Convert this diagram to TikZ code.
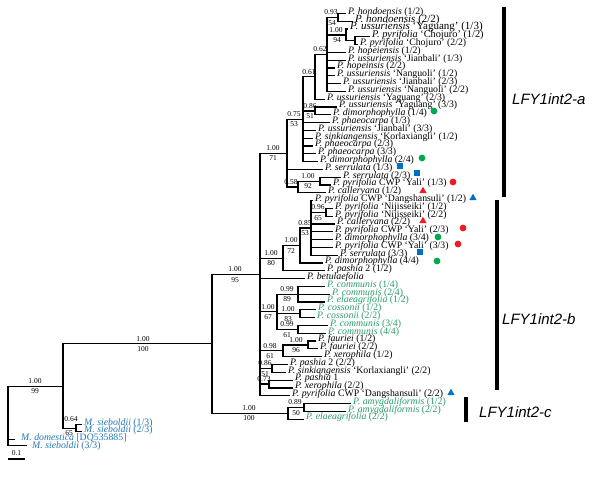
\documentclass[tikz,border=0pt]{standalone}
\usepackage{fontspec}
\setmainfont{Liberation Serif}
\newfontfamily\lfyfont{Liberation Sans}
\usetikzlibrary{shapes.geometric}
\definecolor{tgreen}{RGB}{40,158,105}
\definecolor{mblue}{RGB}{35,120,185}
\definecolor{kgreen}{RGB}{0,168,80}
\definecolor{kblue}{RGB}{0,112,192}
\definecolor{kred}{RGB}{237,28,36}
\newcommand\fsz[1]{\fontsize{#1}{#1}\selectfont}
\newcommand\tip[4]{\coordinate (e#1) at (#2,{13.5+7.8*#1});\node[lf,#3] (t#1) at (e#1) {#4};}
\newcommand\bsl[4]{\node[bs] (#1) at (#2,#3) {#4};}
\begin{document}
\begin{tikzpicture}[x=1pt,y=-1pt,
  br/.style={line width=1.2pt},
  lf/.style={anchor=west,inner sep=0pt,xshift=2pt,yshift=1.7pt,text height=7pt,text depth=2pt,font=\fsz{9.8}},
  bs/.style={inner sep=0pt,font=\fsz{7.5}},
  gt/.style={text=tgreen},
  mt/.style={text=mblue},
  bar/.style={line width=4pt},
  lfy/.style={anchor=west,inner sep=0pt,font=\lfyfont\itshape\fsz{15}},
  gc/.style={circle,fill=kgreen,inner sep=0pt,minimum size=6.8pt},
  rc/.style={circle,fill=kred,inner sep=0pt,minimum size=6.8pt},
  bq/.style={rectangle,fill=kblue,inner sep=0pt,minimum size=6.3pt},
  rt/.style={regular polygon,regular polygon sides=3,fill=kred,inner sep=0pt,minimum size=8.5pt},
  bt/.style={regular polygon,regular polygon sides=3,fill=kblue,inner sep=0pt,minimum size=8.5pt}]
\fill[white] (0,0) rectangle (600,494);
\useasboundingbox (0,0) rectangle (600,494);

% ---------- tips ----------
\tip{0}{346}{}{\textit{P. hondoensis} (1/2)}
\tip{1}{353}{font=\fsz{11}}{\textit{P. hondoensis} (2/2)}
\tip{2}{348}{font=\fsz{11}}{\textit{P. ussuriensis} ‘Yaguang’ (1/3)}
\tip{3}{370}{font=\fsz{10.3}}{\textit{P. pyrifolia} ‘Chojuro’ (1/2)}
\tip{4}{358}{}{\textit{P. pyrifolia} ‘Chojuro’ (2/2)}
\tip{5}{346}{}{\textit{P. hopeiensis} (1/2)}
\tip{6}{346}{}{\textit{P. ussuriensis} ‘Jianbali’ (1/3)}
\tip{7}{335}{}{\textit{P. hopeinsis} (2/2)}
\tip{8}{335}{}{\textit{P. ussuriensis} ‘Nanguoli’ (1/2)}
\tip{9}{341}{}{\textit{P. ussuriensis} ‘Jianbali’ (2/3)}
\tip{10}{346}{}{\textit{P. ussuriensis} ‘Nanguoli’ (2/2)}
\tip{11}{325}{}{\textit{P. ussuriensis} ‘Yaguang’ (2/3)}
\tip{12}{337}{}{\textit{P. ussuriensis} ‘Yaguang’ (3/3)}
\tip{13}{331}{}{\textit{P. dimorphophylla} (1/4)}
\tip{14}{330}{}{\textit{P. phaeocarpa} (1/3)}
\tip{15}{316}{}{\textit{P. ussuriensis} ‘Jianbali’ (3/3)}
\tip{16}{313}{}{\textit{P. sinkiangensis} ‘Korlaxiangli’ (1/2)}
\tip{17}{313}{}{\textit{P. phaeocarpa} (2/3)}
\tip{18}{316}{}{\textit{P. phaeocarpa} (3/3)}
\tip{19}{318}{}{\textit{P. dimorphophylla} (2/4)}
\tip{20}{323}{}{\textit{P. serrulata} (1/3)}
\tip{21}{341}{}{\textit{P. serrulata} (2/3)}
\tip{22}{331}{}{\textit{P. pyrifolia} CWP ‘Yali’ (1/3)}
\tip{23}{326}{}{\textit{P. calleryana} (1/2)}
\tip{24}{313}{}{\textit{P. pyrifolia} CWP ‘Dangshansuli’ (1/2)}
\tip{25}{333}{}{\textit{P. pyrifolia} ‘Nijisseiki’ (1/2)}
\tip{26}{333}{}{\textit{P. pyrifolia} ‘Nijisseiki’ (2/2)}
\tip{27}{335}{}{\textit{P. calleryana} (2/2)}
\tip{28}{333}{}{\textit{P. pyrifolia} CWP ‘Yali’ (2/3)}
\tip{29}{333}{}{\textit{P. dimorphophylla} (3/4)}
\tip{30}{333}{}{\textit{P. pyrifolia} CWP ‘Yali’ (3/3)}
\tip{31}{338}{}{\textit{P. serrulata} (3/3)}
\tip{32}{323}{}{\textit{P. dimorphophylla} (4/4)}
\tip{33}{325}{}{\textit{P. pashia} 2 (1/2)}
\tip{34}{305}{}{\textit{P. betulaefolia}}
\tip{35}{325}{gt}{\textit{P. communis} (1/4)}
\tip{36}{330}{gt}{\textit{P. communis} (2/4)}
\tip{37}{325}{gt}{\textit{P. elaeagrifolia} (1/2)}
\tip{38}{316}{gt}{\textit{P. cossonii} (1/2)}
\tip{39}{315}{gt}{\textit{P. cossonii} (2/2)}
\tip{40}{328}{gt}{\textit{P. communis} (3/4)}
\tip{41}{326}{gt}{\textit{P. communis} (4/4)}
\tip{42}{316}{}{\textit{P. fauriei} (1/2)}
\tip{43}{318}{}{\textit{P. fauriei} (2/2)}
\tip{44}{322}{}{\textit{P. xerophila} (1/2)}
\tip{45}{288}{}{\textit{P. pashia} 2 (2/2)}
\tip{46}{286}{}{\textit{P. sinkiangensis} ‘Korlaxiangli’ (2/2)}
\tip{47}{293}{}{\textit{P. pashia} 1}
\tip{48}{293}{}{\textit{P. xerophila} (2/2)}
\tip{49}{290}{}{\textit{P. pyrifolia} CWP ‘Dangshansuli’ (2/2)}
\tip{50}{351}{gt}{\textit{P. amygdaliformis} (1/2)}
\tip{51}{346}{gt}{\textit{P. amygdaliformis} (2/2)}
\tip{52}{304}{gt}{\textit{P. elaeagrifolia} (2/2)}

% Malus tips
\coordinate (eM1) at (82,424.5);
\coordinate (eM2) at (82,431.5);
\coordinate (eMd) at (15,439.5);
\coordinate (eM3) at (27,445.5);
\node[lf,mt] (tM1) at (eM1) {\textit{M. sieboldii} (1/3)};
\node[lf,mt] (tM2) at (eM2) {\textit{M. sieboldii} (2/3)};
\node[lf,mt,xshift=4pt,yshift=0.2pt] (tMd) at (eMd) {\textit{M. domestica} [DQ535885]};
\node[lf,mt,xshift=3pt,yshift=-2.3pt] (tM3) at (eM3) {\textit{M. sieboldii} (3/3)};

% ---------- internal nodes ----------
\coordinate (nR0) at (8,415.6);
\coordinate (nMP) at (63,386.2);
\coordinate (nMS) at (76,428.5);
\coordinate (nP0) at (212,343.85);
\coordinate (nM) at (260,274.45);
\coordinate (nC1) at (288,413.25);
\coordinate (nC2) at (304,407.4);
\coordinate (nA1) at (287,153.2);
\coordinate (nA2) at (303,119.3);
\coordinate (nB1) at (315,76.9);
\coordinate (nB2) at (327,54.45);
\coordinate (nH0) at (338,17.4);
\coordinate (nD) at (346,34.95);
\coordinate (nE) at (355,40.8);
\coordinate (nF) at (315,111);
\coordinate (nG) at (298,187.05);
\coordinate (nH) at (320,181.2);
\coordinate (nBn) at (283,258.2);
\coordinate (nK) at (300,245.55);
\coordinate (nL) at (311,228);
\coordinate (nN) at (326,212.4);
\coordinate (nP) at (277,311.85);
\coordinate (nQ) at (298,294.3);
\coordinate (nR) at (300,313.8);
\coordinate (nS) at (298,329.4);
\coordinate (nT) at (283,350.85);
\coordinate (nU) at (308,345);
\coordinate (nV) at (272,368.4);
\coordinate (nW) at (269,384);

% ---------- branches ----------
\draw[br] (nR0) |- (nMP);
\draw[br] (nR0) |- (eMd);
\draw[br] (nR0) |- (eM3);
\draw[br] (nMP) |- (nP0);
\draw[br] (nMP) |- (nMS);
\draw[br] (nMS) |- (eM1);
\draw[br] (nMS) |- (eM2);
\draw[br] (nP0) |- (nM);
\draw[br] (nP0) |- (nC1);
\draw[br] (nC1) |- (nC2);
\draw[br] (nC1) |- (e52);
\draw[br] (nC2) |- (e50);
\draw[br] (nC2) |- (e51);
\foreach \c in {nA1,nBn,e34,nP,nT,nV,nW,e49} \draw[br] (nM) |- (\c);
\foreach \c in {nA2,e20,nG} \draw[br] (nA1) |- (\c);
\foreach \c in {nB1,nF,e14,e15,e16,e17,e18,e19} \draw[br] (nA2) |- (\c);
\foreach \c in {nB2,e11} \draw[br] (nB1) |- (\c);
\foreach \c in {nH0,nD,e5,e6,e7,e8,e9,e10} \draw[br] (nB2) |- (\c);
\foreach \c in {e0,e1} \draw[br] (nH0) |- (\c);
\foreach \c in {e2,nE} \draw[br] (nD) |- (\c);
\foreach \c in {e3,e4} \draw[br] (nE) |- (\c);
\foreach \c in {e12,e13} \draw[br] (nF) |- (\c);
\foreach \c in {nH,e23} \draw[br] (nG) |- (\c);
\foreach \c in {e21,e22} \draw[br] (nH) |- (\c);
\foreach \c in {nK,e33} \draw[br] (nBn) |- (\c);
\foreach \c in {nL,e32} \draw[br] (nK) |- (\c);
\foreach \c in {e24,nN,e27,e28,e29,e30,e31} \draw[br] (nL) |- (\c);
\foreach \c in {e25,e26} \draw[br] (nN) |- (\c);
\foreach \c in {nQ,nR,nS} \draw[br] (nP) |- (\c);
\foreach \c in {e35,e36,e37} \draw[br] (nQ) |- (\c);
\foreach \c in {e38,e39} \draw[br] (nR) |- (\c);
\foreach \c in {e40,e41} \draw[br] (nS) |- (\c);
\foreach \c in {nU,e44} \draw[br] (nT) |- (\c);
\foreach \c in {e42,e43} \draw[br] (nU) |- (\c);
\foreach \c in {e45,e46} \draw[br] (nV) |- (\c);
\foreach \c in {e47,e48} \draw[br] (nW) |- (\c);

% ---------- support values ----------
\bsl{s1}{35}{381.2}{1.00}
\bsl{s2}{35}{391.4}{99}
\bsl{s3}{143}{338.8}{1.00}
\bsl{s4}{143}{349.0}{100}
\bsl{s5}{71}{419.5}{0.64}
\bsl{s6}{69}{432.6}{65}
\bsl{s7}{249}{408.2}{1.00}
\bsl{s8}{249}{418.4}{100}
\bsl{s9}{295}{402.4}{0.89}
\bsl{s10}{296}{412.6}{50}
\bsl{s11}{235}{269.4}{1.00}
\bsl{s12}{235}{279.6}{95}
\bsl{s13}{273}{148.2}{1.00}
\bsl{s14}{273}{158.4}{71}
\bsl{s15}{294}{114.3}{0.75}
\bsl{s16}{294}{124.5}{53}
\bsl{s17}{309}{71.9}{0.61}
\bsl{s18}{320}{49.5}{0.62}
\bsl{s19}{331}{12.4}{0.93}
\bsl{s20}{332}{22.6}{54}
\bsl{s21}{336}{30.0}{1.00}
\bsl{s22}{337}{40.2}{94}
\bsl{s23}{310}{106.0}{0.86}
\bsl{s24}{310}{116.2}{51}
\bsl{s25}{291}{182.0}{0.58}
\bsl{s26}{308}{176.2}{1.00}
\bsl{s27}{308}{186.4}{92}
\bsl{s28}{271}{253.2}{1.00}
\bsl{s29}{271}{263.4}{80}
\bsl{s30}{291}{240.5}{1.00}
\bsl{s31}{291}{250.7}{72}
\bsl{s32}{305}{223.0}{0.85}
\bsl{s33}{305}{233.2}{53}
\bsl{s34}{318}{207.4}{0.96}
\bsl{s35}{318}{217.6}{65}
\bsl{s36}{268}{306.8}{1.00}
\bsl{s37}{268}{317.0}{67}
\bsl{s38}{287}{289.3}{0.99}
\bsl{s39}{287}{299.5}{89}
\bsl{s40}{288}{308.8}{1.00}
\bsl{s41}{288}{319.0}{83}
\bsl{s42}{287}{324.4}{0.99}
\bsl{s43}{287}{334.6}{61}
\bsl{s44}{270}{345.8}{0.98}
\bsl{s45}{270}{356.0}{61}
\bsl{s46}{296}{340.0}{1.00}
\bsl{s47}{296}{350.2}{96}
\bsl{s48}{265}{363.4}{0.86}
\bsl{s49}{265}{373.6}{51}
\bsl{s50}{264}{379.0}{0.73}

% ---------- scale bar ----------
\coordinate (sb1) at (8,459);
\coordinate (sb2) at (25,459);
\draw[br] (sb1) -- (sb2);
\node[bs] (sbl) at (16.5,453) {0.1};

% ---------- markers ----------
\node[gc] (m13) at (434,111) {};
\node[gc] (m19) at (422,158) {};
\node[bq] (m20) at (400,166) {};
\node[bq] (m21) at (417,173) {};
\node[rc] (m22) at (453,182) {};
\node[rt] (m23) at (423,191) {};
\node[bt] (m24) at (473,198) {};
\node[rt] (m27) at (423,221) {};
\node[rc] (m28) at (463,228) {};
\node[gc] (m29) at (438,237) {};
\node[rc] (m30) at (458,244) {};
\node[bq] (m31) at (420,252) {};
\node[gc] (m32) at (437,261) {};
\node[bt] (m49) at (451,393) {};

% ---------- clade bars ----------
\coordinate (ba1) at (504,7);
\coordinate (ba2) at (504,197);
\coordinate (bb1) at (497,200);
\coordinate (bb2) at (497,390);
\coordinate (bc1) at (466,397);
\coordinate (bc2) at (466,422);
\draw[bar] (ba1) -- (ba2);
\draw[bar] (bb1) -- (bb2);
\draw[bar] (bc1) -- (bc2);
\node[lfy] (la) at (512,99) {LFY1int2-a};
\node[lfy] (lb) at (502,319) {LFY1int2-b};
\node[lfy] (lc) at (479,412) {LFY1int2-c};
\end{tikzpicture}
\end{document}
